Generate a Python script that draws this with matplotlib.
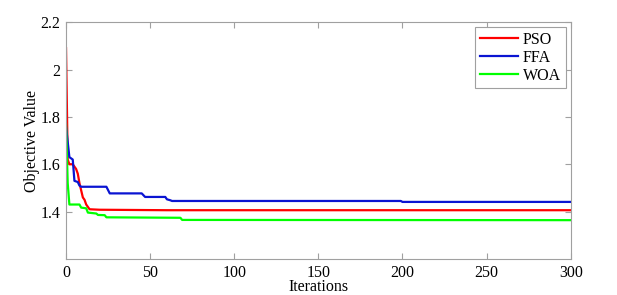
import matplotlib
matplotlib.use("Agg")
import matplotlib.pyplot as plt

plt.rcParams['font.family'] = ['Liberation Serif', 'DejaVu Serif']

# breakpoints (iteration, objective value)
pso_it = [0, 1, 2, 4, 5, 6, 7, 8, 9, 10, 11, 12, 13, 14, 20, 60, 300]
pso_val = [2.09, 1.62, 1.60, 1.60, 1.59, 1.58, 1.56, 1.52, 1.49, 1.46, 1.45, 1.43, 1.42, 1.41, 1.408, 1.406, 1.406]

ffa_it = [0, 2, 4, 5, 7, 8, 9, 24, 26, 45, 47, 59, 60, 62, 63, 199, 200, 300]
ffa_val = [1.76, 1.63, 1.62, 1.53, 1.525, 1.51, 1.505, 1.505, 1.477, 1.477, 1.462, 1.462, 1.452, 1.448, 1.445, 1.445, 1.441, 1.441]

woa_it = [0, 1, 2, 8, 9, 12, 13, 18, 19, 23, 24, 68, 69, 300]
woa_val = [1.77, 1.52, 1.43, 1.43, 1.417, 1.414, 1.396, 1.392, 1.386, 1.385, 1.376, 1.374, 1.365, 1.364]

xticks = [0, 50, 100, 150, 200, 250, 300]
yticks = [1.4, 1.6, 1.8, 2.0, 2.2]
ytick_labels = ['1.4', '1.6', '1.8', '2', '2.2']

fig = plt.figure(figsize=(6.17, 2.95), dpi=100)
ax = fig.add_axes([0.107, 0.122, 0.818, 0.803])

ax.plot(pso_it, pso_val, color='#ff0000', lw=1.6, label='PSO')
ax.plot(ffa_it, ffa_val, color='#0a14d2', lw=1.6, label='FFA')
ax.plot(woa_it, woa_val, color='#00ff00', lw=1.6, label='WOA')

ax.set_xlim(0, 300)
ax.set_ylim(1.2, 2.2)
ax.set_xticks(xticks)
ax.set_yticks(yticks)
ax.set_yticklabels(ytick_labels)
ax.set_xlabel('Iterations', fontsize=11.5, labelpad=-1)
ax.set_ylabel('Objective Value', fontsize=11.5, labelpad=0.5)

for s in ax.spines.values():
    s.set_color('#a0a0a0')
    s.set_linewidth(0.8)
ax.tick_params(direction='in', top=True, right=True, color='#a0a0a0',
               labelsize=11.5, length=4, pad=4)

leg = ax.legend(loc='upper right', fontsize=11.5, fancybox=False, framealpha=1,
                edgecolor='#a0a0a0', handlelength=2.4, borderaxespad=0.3,
                labelspacing=0.12, handletextpad=0.3, borderpad=0.3)
leg.get_frame().set_linewidth(0.8)

fig.savefig('out.png', dpi=100)
